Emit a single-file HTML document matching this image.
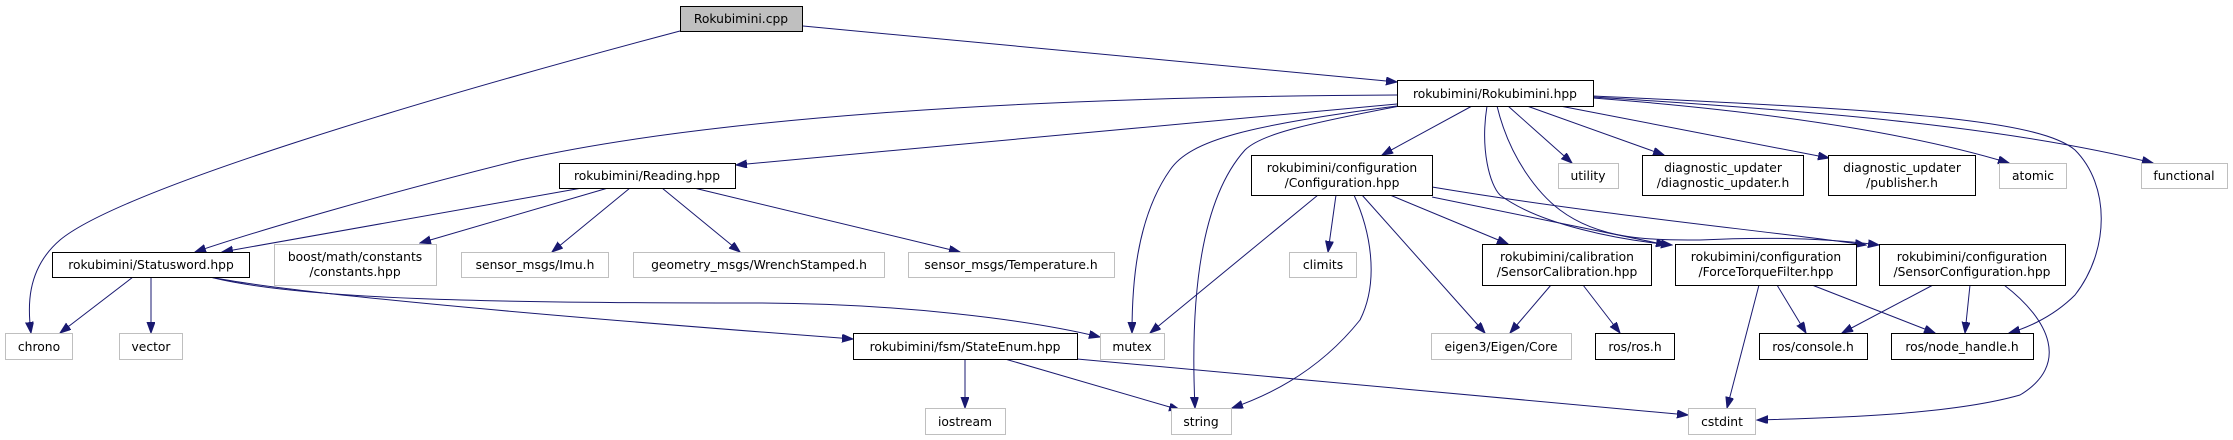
<!DOCTYPE html>
<html><head><meta charset="utf-8"><style>
html,body{margin:0;padding:0;background:#fff;}
svg{display:block;}
text{font-family:"DejaVu Sans","Liberation Sans",sans-serif;font-size:12.3px;fill:#000;text-anchor:middle;}
.b{fill:#fff;stroke:#000;stroke-width:1;}
.g{fill:#fff;stroke:#bfbfbf;stroke-width:1;}
.e{fill:none;stroke:#191970;stroke-width:1;}
</style></head><body>
<svg width="2233" height="440" viewBox="0 0 2233 440" xmlns="http://www.w3.org/2000/svg">
<defs><marker id="a" markerUnits="userSpaceOnUse" markerWidth="12" markerHeight="10" refX="11" refY="4" orient="auto"><path d="M0,0 L11,4 L0,8 z" fill="#191970" stroke="#191970"/></marker></defs>
<g marker-end="url(#a)">
<path class="e" d="M680,31 C420,100 120,190 60,240 C25,270 28,310 31,333"/>
<path class="e" d="M803,26 L1397,82"/>
<path class="e" d="M1397,95 C1000,97 700,120 520,160 C380,195 260,230 195,252"/>
<path class="e" d="M1397,104 L736,165"/>
<path class="e" d="M1397,106 C1250,125 1190,140 1170,170 C1135,220 1132,290 1132,333"/>
<path class="e" d="M1400,106 C1300,125 1260,135 1245,150 C1200,200 1190,300 1195,408"/>
<path class="e" d="M1472,106 L1382,155"/>
<path class="e" d="M1508,106 L1572,163"/>
<path class="e" d="M1527,106 L1664,155"/>
<path class="e" d="M1560,106 L1829,158"/>
<path class="e" d="M1593,98 C1750,110 1900,130 2009,163"/>
<path class="e" d="M1593,97 C1800,110 2000,125 2153,163"/>
<path class="e" d="M1593,96 C1900,110 2040,120 2075,150 C2110,185 2110,250 2075,295 C2050,320 2020,330 2009,333"/>
<path class="e" d="M1487,106 C1480,150 1490,185 1500,195 C1540,225 1620,240 1672,245"/>
<path class="e" d="M1497,106 C1510,160 1540,195 1560,210 C1600,240 1650,240 1700,240 C1780,236 1840,240 1879,245"/>
<path class="e" d="M582,188 L222,252"/>
<path class="e" d="M608,188 L420,243"/>
<path class="e" d="M630,188 L552,252"/>
<path class="e" d="M662,188 L740,252"/>
<path class="e" d="M694,188 L960,252"/>
<path class="e" d="M133,277 L60,333"/>
<path class="e" d="M151,277 L151,333"/>
<path class="e" d="M210,277 C300,300 500,303 750,303 C900,303 1030,320 1100,337"/>
<path class="e" d="M210,277 C300,295 600,320 853,339"/>
<path class="e" d="M1318,195 L1150,333"/>
<path class="e" d="M1336,195 L1328,252"/>
<path class="e" d="M1354,195 C1370,230 1380,280 1360,320 C1320,370 1270,395 1232,408"/>
<path class="e" d="M1362,195 L1485,333"/>
<path class="e" d="M1390,195 L1508,244"/>
<path class="e" d="M1432,197 L1667,245"/>
<path class="e" d="M1432,187 C1600,215 1760,230 1866,245"/>
<path class="e" d="M1551,285 L1510,333"/>
<path class="e" d="M1583,285 L1620,333"/>
<path class="e" d="M1759,285 L1727,408"/>
<path class="e" d="M1777,285 L1806,333"/>
<path class="e" d="M1812,285 L1935,333"/>
<path class="e" d="M1933,285 L1842,333"/>
<path class="e" d="M1970,285 L1965,333"/>
<path class="e" d="M2004,285 C2050,320 2070,365 2020,395 C1950,415 1830,418 1757,420"/>
<path class="e" d="M965,359 L965,408"/>
<path class="e" d="M1005,359 L1180,410"/>
<path class="e" d="M1077,359 L1688,415"/>
</g>
<rect x="680.5" y="6.5" width="122" height="25" fill="#bfbfbf" stroke="#000"/><text x="741" y="23">Rokubimini.cpp</text>
<rect class="b" x="1397.5" y="80.5" width="196" height="26"/><text x="1495" y="98">rokubimini/Rokubimini.hpp</text>
<rect class="b" x="559.5" y="163.5" width="176" height="25"/><text x="647" y="180">rokubimini/Reading.hpp</text>
<rect class="b" x="1251.5" y="155.5" width="181" height="40"/><text x="1342" y="172">rokubimini/configuration</text><text x="1342" y="187">/Configuration.hpp</text>
<rect class="g" x="1558.5" y="163.5" width="60" height="25"/><text x="1588" y="180">utility</text>
<rect class="b" x="1642.5" y="155.5" width="161" height="40"/><text x="1723" y="172">diagnostic_updater</text><text x="1723" y="187">/diagnostic_updater.h</text>
<rect class="b" x="1828.5" y="155.5" width="147" height="40"/><text x="1902" y="172">diagnostic_updater</text><text x="1902" y="187">/publisher.h</text>
<rect class="g" x="1999.5" y="163.5" width="67" height="25"/><text x="2033" y="180">atomic</text>
<rect class="g" x="2141.5" y="163.5" width="86" height="25"/><text x="2184" y="180">functional</text>
<rect class="b" x="52.5" y="252.5" width="197" height="25"/><text x="151" y="269">rokubimini/Statusword.hpp</text>
<rect class="g" x="274.5" y="244.5" width="162" height="41"/><text x="355" y="261">boost/math/constants</text><text x="355" y="276">/constants.hpp</text>
<rect class="g" x="461.5" y="252.5" width="147" height="25"/><text x="535" y="269">sensor_msgs/Imu.h</text>
<rect class="g" x="633.5" y="252.5" width="251" height="25"/><text x="759" y="269">geometry_msgs/WrenchStamped.h</text>
<rect class="g" x="908.5" y="252.5" width="206" height="25"/><text x="1011" y="269">sensor_msgs/Temperature.h</text>
<rect class="g" x="1289.5" y="252.5" width="67" height="25"/><text x="1323" y="269">climits</text>
<rect class="b" x="1482.5" y="244.5" width="169" height="41"/><text x="1567" y="261">rokubimini/calibration</text><text x="1567" y="276">/SensorCalibration.hpp</text>
<rect class="b" x="1675.5" y="244.5" width="181" height="41"/><text x="1766" y="261">rokubimini/configuration</text><text x="1766" y="276">/ForceTorqueFilter.hpp</text>
<rect class="b" x="1879.5" y="244.5" width="186" height="41"/><text x="1972" y="261">rokubimini/configuration</text><text x="1972" y="276">/SensorConfiguration.hpp</text>
<rect class="g" x="5.5" y="333.5" width="67" height="26"/><text x="39" y="351">chrono</text>
<rect class="g" x="119.5" y="333.5" width="63" height="26"/><text x="151" y="351">vector</text>
<rect class="b" x="853.5" y="333.5" width="224" height="26"/><text x="965" y="351">rokubimini/fsm/StateEnum.hpp</text>
<rect class="g" x="1100.5" y="333.5" width="64" height="26"/><text x="1132" y="351">mutex</text>
<rect class="g" x="1431.5" y="333.5" width="140" height="26"/><text x="1501" y="351">eigen3/Eigen/Core</text>
<rect class="b" x="1595.5" y="333.5" width="79" height="26"/><text x="1635" y="351">ros/ros.h</text>
<rect class="b" x="1759.5" y="333.5" width="108" height="26"/><text x="1813" y="351">ros/console.h</text>
<rect class="b" x="1891.5" y="333.5" width="142" height="26"/><text x="1962" y="351">ros/node_handle.h</text>
<rect class="g" x="925.5" y="408.5" width="80" height="26"/><text x="965" y="426">iostream</text>
<rect class="g" x="1171.5" y="408.5" width="60" height="26"/><text x="1201" y="426">string</text>
<rect class="g" x="1688.5" y="408.5" width="67" height="26"/><text x="1722" y="426">cstdint</text>
</svg>
</body></html>
